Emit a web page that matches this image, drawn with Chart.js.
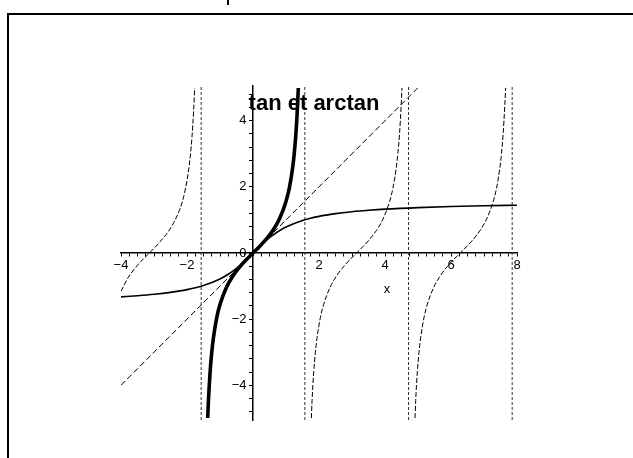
<!DOCTYPE html>
<html>
<head>
<meta charset="utf-8">
<script src="https://cdn.jsdelivr.net/npm/chart.js@4/dist/chart.umd.min.js"></script>
<style>
    html, body { margin: 0; padding: 0; background: #fff; overflow: hidden; }
    #page { position: relative; width: 633px; height: 458px; }
    #frame { position: absolute; left: 7px; top: 13px; width: 700px; height: 600px; border: 2px solid #000; }
    #mark { position: absolute; left: 227px; top: 0; width: 2px; height: 5px; background: #000; }
    #plot { position: absolute; left: 0; top: 0; }
</style>
</head>
<body>
<div id="page">
    <div id="frame"></div>
    <div id="mark"></div>
    <canvas id="plot" width="633" height="458"></canvas>
</div>
<script>
// tan sur ]-pi/2, pi/2[ (trait épais)
const tanMainX = [-1.373, -1.35, -1.3, -1.25, -1.2, -1.1, -1.0, -0.8, -0.6, -0.4, -0.2, 0, 0.2, 0.4, 0.6, 0.8, 1.0, 1.1, 1.2, 1.25, 1.3, 1.35, 1.373];
const tanMainY = [-4.99, -4.46, -3.60, -3.01, -2.57, -1.96, -1.56, -1.03, -0.68, -0.42, -0.20, 0, 0.20, 0.42, 0.68, 1.03, 1.56, 1.96, 2.57, 3.01, 3.60, 4.46, 4.99];

// autres branches de tan (pointillés)
const tanLeftX = [-4.0, -3.8, -3.6, -3.4, -3.2, -3.0, -2.8, -2.6, -2.4, -2.2, -2.1, -2.0, -1.95, -1.9, -1.85, -1.8, -1.768];
const tanLeftY = [-1.16, -0.77, -0.49, -0.26, -0.06, 0.14, 0.36, 0.60, 0.92, 1.37, 1.71, 2.19, 2.51, 2.93, 3.49, 4.29, 4.99];
const tanB2X = [1.769, 1.79, 1.84, 1.89, 1.94, 2.04, 2.14, 2.34, 2.54, 2.74, 2.94, 3.14, 3.34, 3.54, 3.74, 3.94, 4.14, 4.24, 4.34, 4.39, 4.44, 4.49, 4.515];
const tanB3X = [4.91, 4.93, 4.98, 5.03, 5.08, 5.18, 5.28, 5.48, 5.68, 5.88, 6.08, 6.28, 6.48, 6.68, 6.88, 7.08, 7.28, 7.38, 7.48, 7.53, 7.58, 7.63, 7.656];

// arctan
const atanX = [-4, -3.5, -3, -2.5, -2, -1.5, -1, -0.75, -0.5, -0.25, 0, 0.25, 0.5, 0.75, 1, 1.5, 2, 2.5, 3, 3.5, 4, 5, 6, 7, 8];
const atanY = [-1.326, -1.292, -1.249, -1.190, -1.107, -0.983, -0.785, -0.644, -0.464, -0.245, 0, 0.245, 0.464, 0.644, 0.785, 0.983, 1.107, 1.190, 1.249, 1.292, 1.326, 1.373, 1.406, 1.429, 1.446];

// première bissectrice
const diagX = [-4, 5.05];
const diagY = [-4, 5.05];

// asymptotes verticales
const asymptoteX = [-1.5708, 1.5708, 4.7124, 7.8540];

// axes et graduations
const xMin = -4, xMax = 8;
const yMin = -5.05, yMax = 5.05;
const xLabels = [-4, -2, 2, 4, 6, 8];
const yLabels = [-4, -2, 0, 2, 4];
const xMinorStep = 0.25;
const yMinorStep = 0.4;

function zip(xs, ys) {
    return xs.map((x, i) => ({ x: x, y: ys[i] }));
}

function buildTicks(from, to, step) {
    const ticks = [];
    const n = Math.round((to - from) / step);
    for (let i = 0; i <= n; i++) {
        ticks.push({ value: +(from + i * step).toFixed(4) });
    }
    return ticks;
}

function fmt(v) {
    return v < 0 ? '\u2212' + Math.abs(v) : String(v);
}

const tickFont = { family: '"Liberation Sans", Arial, sans-serif', size: 13 };

const tanStyle = {
    borderColor: '#000',
    borderWidth: 1,
    borderDash: [5, 2],
    cubicInterpolationMode: 'monotone'
};

const datasets = [
    {
        data: zip(diagX, diagY),
        borderColor: '#000',
        borderWidth: 1,
        borderDash: [6, 3]
    },
    Object.assign({ data: zip(tanLeftX, tanLeftY) }, tanStyle),
    Object.assign({ data: zip(tanB2X, tanMainY) }, tanStyle),
    Object.assign({ data: zip(tanB3X, tanMainY) }, tanStyle),
    {
        data: zip(atanX, atanY),
        borderColor: '#000',
        borderWidth: 1.6,
        cubicInterpolationMode: 'monotone'
    },
    {
        data: zip(tanMainX, tanMainY),
        borderColor: '#000',
        borderWidth: 3.6,
        cubicInterpolationMode: 'monotone'
    }
];

asymptoteX.forEach(a => {
    datasets.push({
        data: [{ x: a, y: yMin }, { x: a, y: yMax }],
        borderColor: '#333',
        borderWidth: 1,
        borderDash: [3, 2]
    });
});

// titre et nom de l'axe dessinés par-dessus le graphe
const annotations = {
    id: 'annotations',
    afterDraw(chart) {
        const ctx = chart.ctx;
        ctx.save();
        ctx.fillStyle = '#000';
        ctx.textAlign = 'center';
        ctx.textBaseline = 'middle';
        ctx.font = 'bold 22px "Liberation Sans", Arial, sans-serif';
        ctx.fillText('tan et arctan', 314, 104);
        ctx.font = '13px "Liberation Sans", Arial, sans-serif';
        ctx.fillText('x', 387, 289);
        ctx.restore();
    }
};

Chart.defaults.color = '#000';

new Chart(document.getElementById('plot'), {
    type: 'scatter',
    data: { datasets: datasets },
    options: {
        responsive: false,
        animation: false,
        devicePixelRatio: 1,
        showLine: true,
        elements: { point: { radius: 0, hoverRadius: 0 } },
        layout: { padding: { left: 121, right: 116, top: 86, bottom: 38 } },
        plugins: {
            legend: { display: false },
            tooltip: { enabled: false }
        },
        scales: {
            x: {
                type: 'linear',
                min: xMin,
                max: xMax,
                position: { y: 0 },
                afterBuildTicks: axis => { axis.ticks = buildTicks(xMin, xMax, xMinorStep); },
                afterFit: axis => { axis.height = 0; },
                grid: { drawOnChartArea: false, drawTicks: true, tickLength: 3, tickColor: '#000' },
                border: { display: true, color: '#000', width: 1.5 },
                ticks: {
                    autoSkip: false,
                    maxRotation: 0,
                    padding: 2,
                    font: tickFont,
                    callback: v => xLabels.includes(v) ? fmt(v) : ''
                }
            },
            y: {
                type: 'linear',
                min: yMin,
                max: yMax,
                position: { x: 0 },
                afterBuildTicks: axis => { axis.ticks = buildTicks(-4.8, 4.8, yMinorStep); },
                afterFit: axis => { axis.width = 0; },
                grid: { drawOnChartArea: false, drawTicks: true, tickLength: 3, tickColor: '#000' },
                border: { display: true, color: '#000', width: 1.5 },
                ticks: {
                    autoSkip: false,
                    font: tickFont,
                    // les libellés sont alignés à droite sur l'axe : l'espace les décale
                    callback: v => yLabels.includes(v) ? fmt(v) + '\u2002' : ''
                }
            }
        }
    },
    plugins: [annotations]
});
</script>
</body>
</html>
